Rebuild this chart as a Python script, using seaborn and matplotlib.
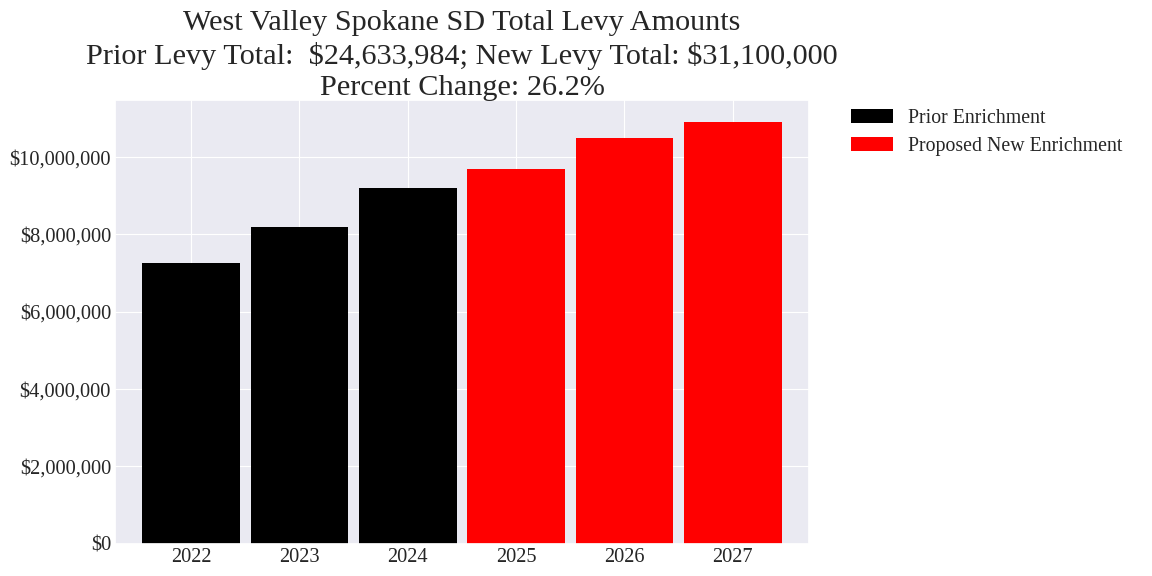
#!/usr/bin/env python3
# -*- coding: utf-8 -*-
"""
plot.py

Purpose:
    Bar chart of prior vs proposed levy amounts
"""
###########################################################
### Imports
import pandas as pd
import seaborn as sns
import matplotlib.pyplot as plt
from matplotlib.ticker import FuncFormatter

###########################################################
### Data
years = ['2022', '2023', '2024', '2025', '2026', '2027']
amounts = [7250000, 8180000, 9203984, 9700000, 10500000, 10900000]
groups = ['Prior Enrichment'] * 3 + ['Proposed New Enrichment'] * 3
colors = {'Prior Enrichment': 'black', 'Proposed New Enrichment': 'red'}

title = ('West Valley Spokane SD Total Levy Amounts\n'
         'Prior Levy Total:  $24,633,984; New Levy Total: $31,100,000\n'
         'Percent Change: 26.2%')


###########################################################
### main
def main():
    sns.set_theme(style='darkgrid')
    plt.rcParams['font.family'] = ['Liberation Serif', 'DejaVu Serif']
    plt.rcParams['text.parse_math'] = False

    df = pd.DataFrame({'year': years, 'amount': amounts, 'group': groups})

    fig, ax = plt.subplots(figsize=(11.52, 5.76), dpi=100)
    sns.barplot(data=df, x='year', y='amount', hue='group', palette=colors,
                dodge=False, width=0.9, saturation=1, linewidth=0, ax=ax)

    ax.set_xlim(-0.7, 5.7)
    ax.set_ylim(0, 11.47e6)
    ax.grid(True, axis='both', linewidth=0.8)
    ax.set_axisbelow(True)
    ax.yaxis.set_major_formatter(FuncFormatter(lambda v, p: '${:,.0f}'.format(v)))
    ax.set_xlabel('')
    ax.set_ylabel('')
    ax.tick_params(axis='both', labelsize=14.7, length=0, pad=3)
    ax.set_title(title, fontsize=21.8, linespacing=1.25, pad=4)

    ax.legend(loc='upper left', bbox_to_anchor=(1.035, 1.02), frameon=False,
              fontsize=14.3, handlelength=2.1, handleheight=0.7,
              labelspacing=0.45)

    fig.subplots_adjust(left=0.1, right=0.702, top=0.826, bottom=0.056)
    plt.savefig('out.png', dpi=100)


###########################################################
### start main
if __name__ == "__main__":
    main()
